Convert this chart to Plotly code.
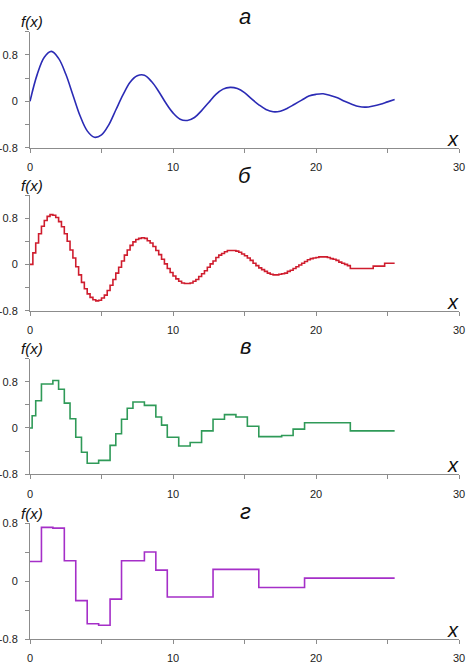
import numpy as np
import plotly.graph_objects as go

# panel a - fine curve, read every 0.5
a_x = [i * 0.5 for i in range(52)]
a_y = [0.00, 0.46, 0.76, 0.86, 0.74, 0.47, 0.11, -0.25, -0.51, -0.62,
       -0.58, -0.41, -0.15, 0.11, 0.33, 0.44, 0.45, 0.34, 0.17, -0.03,
       -0.20, -0.31, -0.33, -0.28, -0.16, -0.02, 0.12, 0.21, 0.24, 0.22,
       0.15, 0.04, -0.06, -0.14, -0.18, -0.17, -0.12, -0.05, 0.02, 0.09,
       0.12, 0.13, 0.10, 0.06, 0.00, -0.05, -0.09, -0.10, -0.08, -0.05,
       -0.01, 0.03]

# panel b - steps of 0.2
b_step = 0.2
b_y = [0.00, 0.20, 0.37, 0.53, 0.66, 0.76, 0.83, 0.86, 0.85, 0.81,
       0.74, 0.65, 0.53, 0.40, 0.25, 0.11, -0.04, -0.18, -0.31, -0.42,
       -0.51, -0.57, -0.61, -0.63, -0.62, -0.58, -0.53, -0.45, -0.36, -0.26,
       -0.15, -0.05, 0.06, 0.16, 0.25, 0.33, 0.39, 0.43, 0.45, 0.46,
       0.45, 0.41, 0.37, 0.31, 0.24, 0.17, 0.09, 0.01, -0.07, -0.14,
       -0.20, -0.25, -0.29, -0.32, -0.33, -0.33, -0.32, -0.29, -0.26, -0.21,
       -0.16, -0.11, -0.05, 0.01, 0.06, 0.12, 0.16, 0.19, 0.22, 0.24,
       0.24, 0.24, 0.23, 0.21, 0.18, 0.15, 0.11, 0.07, 0.02, -0.02,
       -0.06, -0.09, -0.12, -0.15, -0.17, -0.18, -0.18, -0.17, -0.16, -0.15,
       -0.12, -0.10, -0.07, -0.04, -0.01, 0.02, 0.05, 0.08, 0.10, 0.11,
       0.12, 0.13, 0.13, 0.13, 0.12, 0.10, 0.09, 0.07, 0.04, 0.02,
       0.00, -0.02, -0.07, -0.07, -0.07, -0.07, -0.07, -0.07, -0.07, -0.07,
       -0.03, -0.03, -0.03, -0.03, 0.02, 0.02, 0.02, 0.02]
b_x = list(np.round(np.arange(len(b_y)) * b_step, 2))
x_end = 25.5

# panel v
v_x = [0, 0.15, 0.4, 0.8, 1.6, 2.0, 2.4, 2.8, 3.2, 3.6, 4.0, 4.8, 5.6, 6.0,
       6.4, 6.8, 7.2, 8.0, 8.8, 9.2, 9.6, 10.4, 11.2, 12.0, 12.8, 13.6, 14.4,
       15.2, 16.0, 17.6, 18.4, 19.2, 22.4]
v_y = [0.0, 0.21, 0.47, 0.76, 0.82, 0.67, 0.43, 0.16, -0.16, -0.42, -0.61,
       -0.56, -0.30, -0.10, 0.15, 0.34, 0.45, 0.39, 0.19, 0.05, -0.16, -0.31,
       -0.25, -0.05, 0.15, 0.23, 0.19, 0.03, -0.15, -0.13, -0.02, 0.09, -0.05]

# panel g
g_x = [0, 0.8, 1.6, 2.4, 3.2, 4.0, 4.8, 5.6, 6.4, 8.0, 8.8, 9.6, 12.8, 16.0, 19.2]
g_y = [0.27, 0.74, 0.73, 0.28, -0.27, -0.59, -0.61, -0.25, 0.28, 0.40, 0.15,
       -0.22, 0.16, -0.09, 0.04]

titles = ['а', 'б', 'в', 'г']
colors = ['#2b2bb5', '#cf1d2e', '#2f9a58', '#a52fc8']
font = 'Arial, Liberation Sans, sans-serif'

H = 663
# pixel rows of each plot area (top, bottom)
rows = [(31.7, 147.7), (195, 310.7), (358.5, 474.3), (523, 639)]
yranges = [[-0.8, 1.2], [-0.8, 1.2], [-0.8, 1.2], [-0.8, 0.8]]

fig = go.Figure()
fig.add_trace(go.Scatter(x=a_x, y=a_y, mode='lines', line=dict(color=colors[0], width=1.6, shape='spline'),
                         xaxis='x', yaxis='y'))
fig.add_trace(go.Scatter(x=b_x + [x_end], y=b_y + [b_y[-1]], mode='lines',
                         line=dict(color=colors[1], width=1.6, shape='hv'), xaxis='x2', yaxis='y2'))
fig.add_trace(go.Scatter(x=v_x + [x_end], y=v_y + [v_y[-1]], mode='lines',
                         line=dict(color=colors[2], width=1.6, shape='hv'), xaxis='x3', yaxis='y3'))
fig.add_trace(go.Scatter(x=g_x + [x_end], y=g_y + [g_y[-1]], mode='lines',
                         line=dict(color=colors[3], width=1.6, shape='hv'), xaxis='x4', yaxis='y4'))

annots = []
for i in range(4):
    top, bot = rows[i]
    sfx = '' if i == 0 else str(i + 1)
    yt = [v for v in [-0.8, -0.4, 0, 0.4, 0.8, 1.2] if v <= yranges[i][1] + 1e-9]
    ytext = {-0.8: '-0.8', 0: '0', 0.8: '0.8'}
    fig.update_layout(**{
        'xaxis' + sfx: dict(domain=[0, 1], range=[0, 30], anchor='y' + sfx, automargin=False,
                            showline=True, linecolor='#8c8c8c', linewidth=1, showgrid=False, zeroline=False,
                            ticks='outside', ticklen=4, tickcolor='#8c8c8c',
                            tickvals=[0, 5, 10, 15, 20, 25, 30], ticktext=['0', '', '10', '', '20', '', '30'],
                            tickfont=dict(family=font, size=11, color='#222'), ticklabelstandoff=5),
        'yaxis' + sfx: dict(domain=[1 - bot / H, 1 - top / H], range=yranges[i], anchor='x' + sfx, automargin=False,
                            showline=True, linecolor='#8c8c8c', linewidth=1, showgrid=False, zeroline=False,
                            ticks='outside', ticklen=4, tickcolor='#8c8c8c',
                            tickvals=yt, ticktext=[ytext.get(v, '') for v in yt],
                            tickfont=dict(family=font, size=11, color='#222'), ticklabelstandoff=5),
    })
    annots.append(dict(text='f(x)', xref='paper', yref='paper', x=(32 - 30) / 429, y=1 - (top - 10) / H,
                       showarrow=False, font=dict(family=font, size=15, color='#111'), xanchor='center', yanchor='middle'))
    annots.append(dict(text='x', xref='paper', yref='paper', x=(453 - 30) / 429, y=1 - (bot - 9) / H,
                       showarrow=False, font=dict(family=font, size=20, color='#111'), xanchor='center', yanchor='middle'))

title_py = [16, 176, 346, 511]
for i in range(4):
    annots.append(dict(text=titles[i], xref='paper', yref='paper', x=(245 - 30) / 429, y=1 - title_py[i] / H,
                       showarrow=False, font=dict(family=font, size=22, color='#111'), xanchor='center', yanchor='middle'))

fig.update_layout(width=466, height=663, margin=dict(l=30, r=7, t=0, b=0),
                  paper_bgcolor='white', plot_bgcolor='white', showlegend=False, annotations=annots)
fig.update_annotations(font_style='italic')

# page has a default 8px body margin; drop it so the figure sits at the corner
fig.write_html("out.html", config={'displayModeBar': False},
               post_script="document.body.style.margin='0';")
